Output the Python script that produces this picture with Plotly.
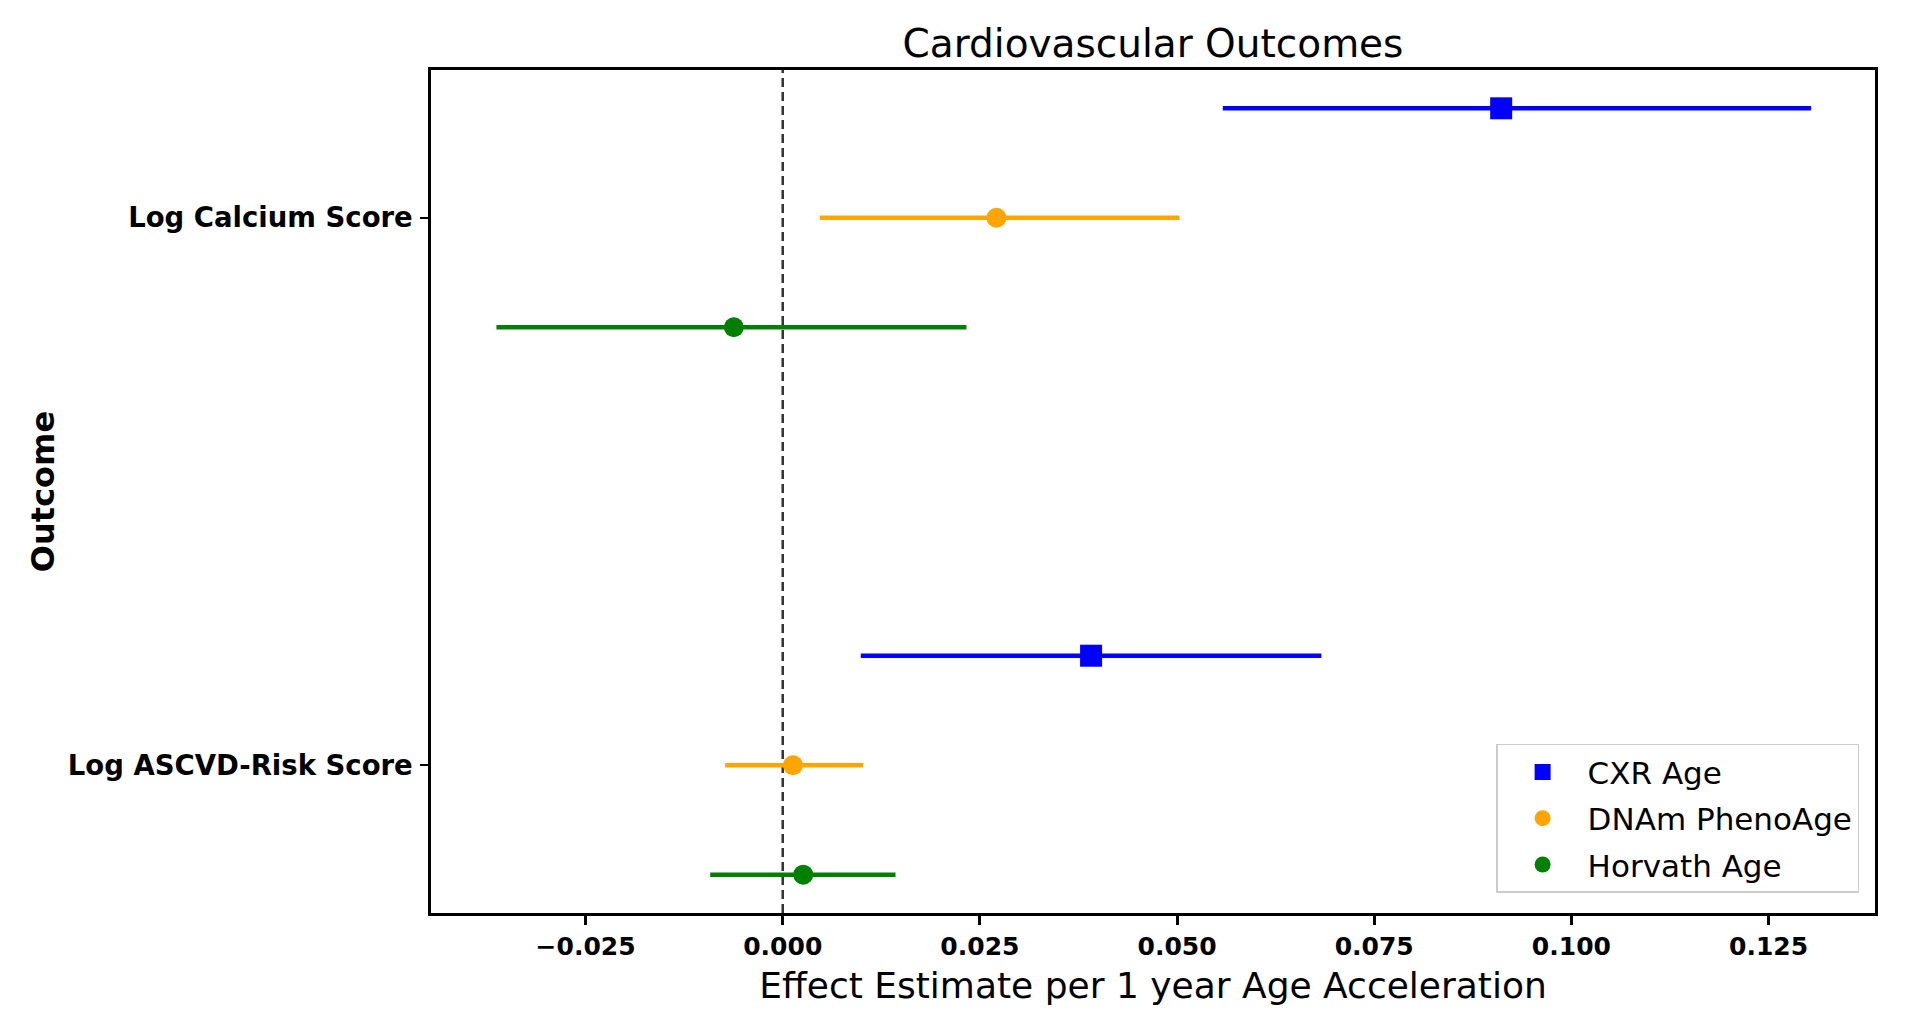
import plotly.graph_objects as go

# Outcomes, top to bottom
outcomes = ['Log Calcium Score', 'Log ASCVD-Risk Score']

# Point estimates and 95% CI per age measure (order follows outcomes)
cxr_est = [0.0911, 0.0391]
cxr_lo = [0.0558, 0.0099]
cxr_hi = [0.1304, 0.0683]

dnam_est = [0.0271, 0.0013]
dnam_lo = [0.0047, -0.0073]
dnam_hi = [0.0503, 0.0102]

horvath_est = [-0.0062, 0.0026]
horvath_lo = [-0.0363, -0.0092]
horvath_hi = [0.0233, 0.0143]

x_ticks = [-0.025, 0.0, 0.025, 0.05, 0.075, 0.1, 0.125]
x_tick_labels = ['\u22120.025', '0.000', '0.025', '0.050', '0.075', '0.100', '0.125']

series = [
    ('CXR Age', cxr_est, cxr_lo, cxr_hi, '#0000ff', 'square', 0.2),
    ('DNAm PhenoAge', dnam_est, dnam_lo, dnam_hi, '#ffa500', 'circle', 0.0),
    ('Horvath Age', horvath_est, horvath_lo, horvath_hi, '#008000', 'circle', -0.2),
]

n = len(outcomes)
base_y = [n - 1 - i for i in range(n)]

fig = go.Figure()

for name, est, lo, hi, color, symbol, offset in series:
    fig.add_trace(go.Scatter(
        x=est,
        y=[b + offset for b in base_y],
        mode='markers',
        name=name,
        legendgroup=name,
        marker=dict(color=color, symbol=symbol, size=22 if symbol == 'square' else 20),
        error_x=dict(
            type='data',
            symmetric=False,
            array=[h - e for h, e in zip(hi, est)],
            arrayminus=[e - l for e, l in zip(est, lo)],
            color=color,
            thickness=4.5,
            width=0
        )
    ))

# Linea de referencia en cero
fig.add_shape(type='line', xref='x', yref='paper', x0=0, x1=0, y0=0, y1=1,
              line=dict(color='#333333', width=2.5, dash='9px,5px'), layer='below')

# la pagina html deja 8px de margen en el body
W, H = 1897, 1009

fig.update_layout(
    width=W,
    height=H,
    margin=dict(l=423, r=30, t=62, b=104),
    paper_bgcolor='white',
    plot_bgcolor='white',
    font=dict(family='DejaVu Sans', color='black'),
    title=dict(
        text='Cardiovascular Outcomes',
        x=0.5, xref='paper', xanchor='center',
        y=1 - 35 / H, yref='container', yanchor='middle',
        font=dict(size=39, color='black')
    ),
    xaxis=dict(
        range=[-0.0446, 0.1385],
        tickvals=x_ticks,
        ticktext=x_tick_labels,
        ticks='outside', ticklen=9, tickwidth=2.5, tickcolor='black',
        showline=True, linewidth=2.5, linecolor='black', mirror=True,
        showgrid=False, zeroline=False, automargin=False,
        tickfont=dict(size=25, family='DejaVu Sans', weight='bold'),
        title=dict(text='Effect Estimate per 1 year Age Acceleration',
                   font=dict(size=36), standoff=14)
    ),
    yaxis=dict(
        range=[-0.27, 1.27],
        tickvals=base_y,
        ticktext=outcomes,
        ticks='outside', ticklen=8, tickwidth=2, tickcolor='black',
        ticklabelstandoff=2,
        showline=True, linewidth=2.5, linecolor='black', mirror=True,
        showgrid=False, zeroline=False, automargin=False,
        tickfont=dict(size=27.5, family='DejaVu Sans', weight='bold'),
        title=dict(text='Outcome', font=dict(size=32, weight='bold'), standoff=4)
    ),
    legend=dict(
        x=0.989, xanchor='right',
        y=0.024, yanchor='bottom',
        bgcolor='white',
        bordercolor='#cccccc',
        borderwidth=1.5,
        font=dict(size=31),
        tracegroupgap=3,
        itemwidth=80
    ),
    showlegend=True
)

fig.write_html("out.html")
